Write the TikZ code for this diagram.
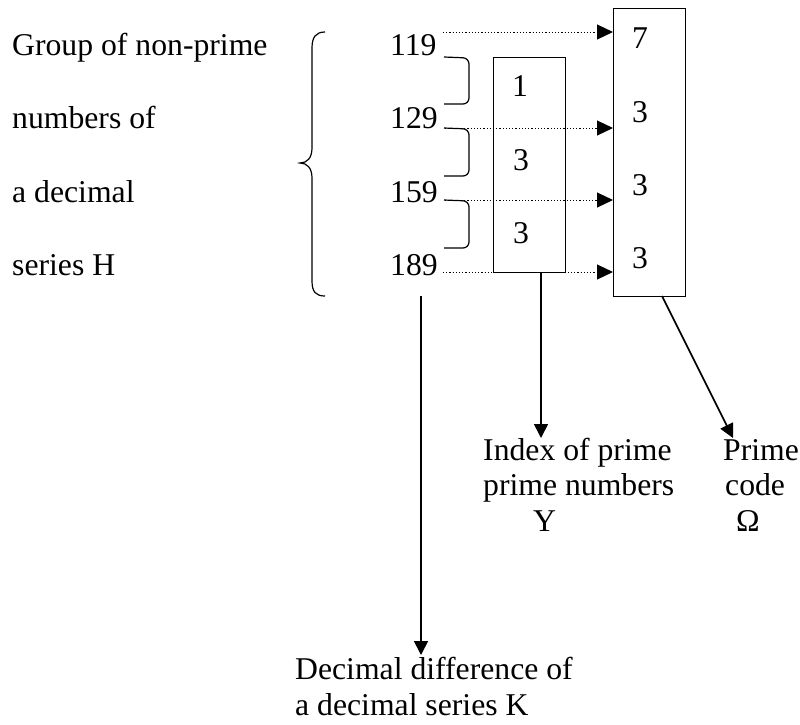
\documentclass[tikz,border=0pt]{standalone}
\usepackage{fontspec}
\setmainfont{Liberation Serif}
\usetikzlibrary{arrows.meta}
\begin{document}
\begin{tikzpicture}[x=1pt,y=-1pt,
  txt/.style={anchor=base west, inner sep=0pt, font=\fontsize{31.7}{38}\selectfont},
  boxframe/.style={draw, line width=1.4pt, inner sep=0pt, anchor=north west},
  dotarrow/.style={line width=1pt, dash pattern=on 1.2pt off 2pt, -{Triangle[length=16pt,width=15pt]}},
  solidarrow/.style={line width=1.6pt, -{Triangle[length=14pt,width=14pt]}},
  bracket/.style={line width=1.2pt, rounded corners=6pt},
  bigbrace/.style={line width=1.2pt}]
\useasboundingbox (0,0) rectangle (800,724);

% left description
\node[txt] (g1) at (12,55) {Group of non-prime};
\node[txt] (g2) at (12,128) {numbers of};
\node[txt] (g3) at (12,202) {a decimal};
\node[txt] (g4) at (12,275) {series H};

% big brace
\draw[bigbrace] (325,32) .. controls (316,32) and (312,37) .. (312,48)
  -- (312,148) .. controls (312,158) and (307,163) .. (300,163)
  .. controls (307,163) and (312,168) .. (312,178)
  -- (312,281) .. controls (312,292) and (316,296) .. (325,296);

% numbers
\node[txt] (n1) at (390,55) {119};
\node[txt] (n2) at (390,128) {129};
\node[txt] (n3) at (390,202) {159};
\node[txt] (n4) at (390,275) {189};

% boxes
\node[boxframe, minimum width=72pt, minimum height=215pt] (mbox) at (493,57) {};
\node[boxframe, minimum width=72pt, minimum height=288pt] (rbox) at (613,8) {};

% small brackets
\draw[bracket] (444,57) -- (469,58) -- (469,104) -- (444,104);
\draw[bracket] (444,128) -- (469,129) -- (469,176) -- (444,176);
\draw[bracket] (444,200) -- (469,201) -- (469,248) -- (444,248);

% middle box numbers
\node[txt] (m1) at (512,96) {1};
\node[txt] (m2) at (513,170) {3};
\node[txt] (m3) at (513,243) {3};

% right box numbers
\node[txt] (r1) at (632,48) {7};
\node[txt] (r2) at (632,122) {3};
\node[txt] (r3) at (632,195) {3};
\node[txt] (r4) at (632,268) {3};

% dotted arrows
\coordinate (d1) at (443,32);
\coordinate (d2) at (445,128);
\coordinate (d3) at (445,200);
\coordinate (d4) at (443,272);
\draw[dotarrow] (d1) -- (d1 -| rbox.west);
\draw[dotarrow] (d2) -- (d2 -| rbox.west);
\draw[dotarrow] (d3) -- (d3 -| rbox.west);
\draw[dotarrow] (d4) -- (d4 -| rbox.west);

% bottom labels
\node[txt] (i1) at (483,460) {Index of prime};
\node[txt] (i2) at (483,495) {prime numbers};
\node[txt] (i3) at (533,531) {Y};
\node[txt] (p1) at (723,460) {Prime};
\node[txt] (p2) at (725,495) {code};
\node[txt] (p3) at (736,531) {Ω};
\node[txt] (k1) at (295,679) {Decimal difference of};
\node[txt] (k2) at (295,715) {a decimal series K};

% solid arrows
\coordinate (kstart) at (421,296);
\coordinate (kend) at (421,655);
\coordinate (mstart) at (541,272);
\coordinate (mend) at (541,438);
\coordinate (rstart) at (662,296);
\coordinate (rend) at (733,438);
\draw[solidarrow] (kstart) -- (kend);
\draw[solidarrow] (mstart) -- (mend);
\draw[solidarrow] (rstart) -- (rend);
\end{tikzpicture}
\end{document}
